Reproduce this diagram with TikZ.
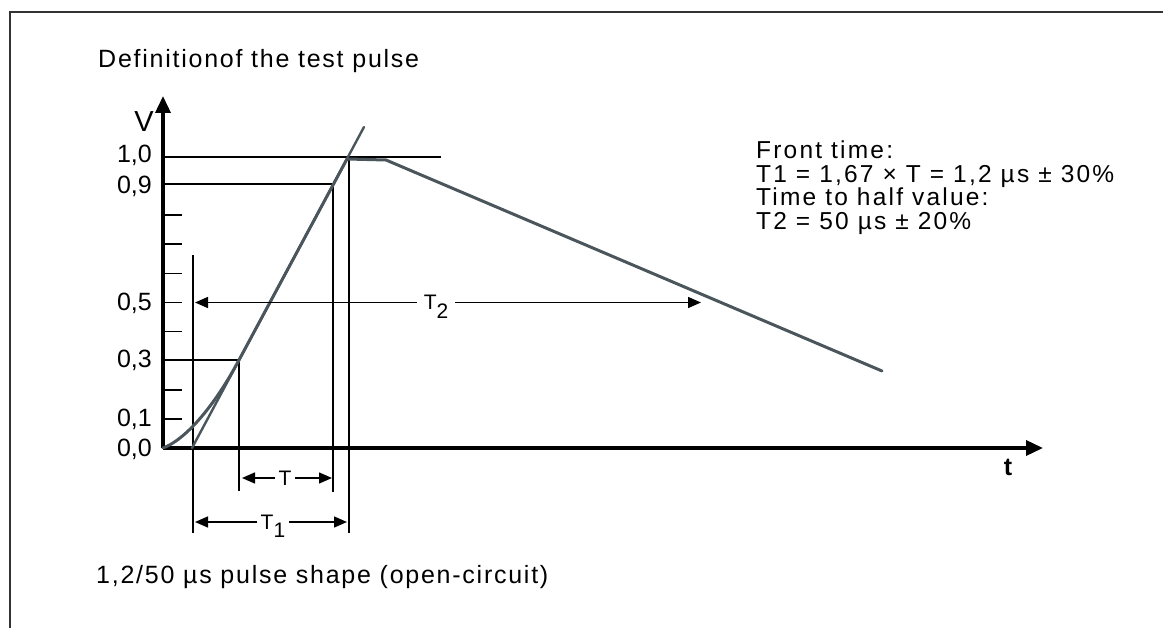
\documentclass[tikz,border=0pt]{standalone}
\usepackage{fontspec}
\setmainfont{Liberation Sans}
\newfontfamily\spaced[LetterSpace=7]{Liberation Sans}
\newfontfamily\spacedwide[LetterSpace=9]{Liberation Sans}
\usetikzlibrary{arrows.meta}
\definecolor{pulsegray}{HTML}{4B555C}
\definecolor{framegray}{HTML}{333333}
\newcommand\subdig[1]{\raisebox{-0.42em}{#1}}
\tikzset{
  frameline/.style={draw=framegray, line width=2.2pt},
  axisline/.style={line width=3.6pt, -{Triangle[length=17pt,width=15pt]}},
  guide/.style={line width=1.4pt},
  tickline/.style={line width=1.6pt},
  pulse/.style={draw=pulsegray, line width=3pt, line join=round, line cap=round},
  frontline/.style={draw=pulsegray, line width=2.4pt, line cap=round},
  dimarrow/.style={line width=1.4pt, {Triangle[length=13pt,width=11pt]}-{Triangle[length=13pt,width=11pt]}},
  dimlabel/.style={font=\fontsize{21}{24}\selectfont, fill=white, inner xsep=4pt, inner ysep=1pt},
  vlabel/.style={font=\fontsize{25}{28}\selectfont, anchor=east, inner sep=0pt},
  bodytext/.style={font=\spaced\fontsize{25}{23.3}\selectfont, anchor=base west, inner sep=0pt, align=left},
}
\begin{document}
\begin{tikzpicture}[x=1pt,y=-1pt]
\useasboundingbox (0,0) rectangle (1163,628);
% frame
\coordinate (fTL) at (10,12);
\coordinate (fTR) at (1163,12);
\coordinate (fBL) at (10,628);
\draw[frameline] (fBL) -- (fTL) -- (fTR);
% texts
\node[bodytext] (title) at (98,67.3) {Definitionof the test pulse};
\node[bodytext, font=\spacedwide\fontsize{24.5}{23.6}\selectfont] (info) at (756,229.5) {Front time:\\T1 = 1,67 × T = 1,2 µs ± 30\%\\Time to half value:\\T2 = 50 µs ± 20\%};
\node[bodytext] (shape) at (96,583) {1,2/50 µs pulse shape (open-circuit)};
% axes
\coordinate (O) at (163,448);
\coordinate (ytip) at (163,96);
\coordinate (xtip) at (1043,448);
\draw[axisline] (O) -- (ytip);
\draw[axisline] (O) -- (xtip);
\node[font=\fontsize{29}{30}\selectfont, inner sep=0pt] (V) at (144,122) {V};
\node[font=\bfseries\fontsize{25}{28}\selectfont, inner sep=0pt] (t) at (1008,467) {t};
% value labels
\node[vlabel] (l10) at (152,155) {1,0};
\node[vlabel] (l09) at (152,186) {0,9};
\node[vlabel] (l05) at (152,303) {0,5};
\node[vlabel] (l03) at (152,360) {0,3};
\node[vlabel] (l01) at (152,419) {0,1};
\node[vlabel] (l00) at (152,449) {0,0};
% ticks
\foreach \v/\n in {0.1/a,0.2/b,0.4/c,0.5/d,0.6/e,0.7/f,0.8/g}{
  \coordinate (tk\n0) at (163,{448-291*\v});
  \coordinate (tk\n1) at (182,{448-291*\v});
  \draw[tickline] (tk\n0) -- (tk\n1);
}
% guide lines
\coordinate (h10a) at (163,157);
\coordinate (h10b) at (441,157);
\coordinate (h09a) at (163,184);
\coordinate (p09) at (333,184);
\coordinate (h03a) at (163,360);
\coordinate (p03) at (239,360);
\draw[guide] (h10a) -- (h10b);
\draw[guide] (h09a) -- (p09);
\draw[guide] (h03a) -- (p03);
\coordinate (vAt) at (193,255);
\coordinate (vAb) at (193,533);
\coordinate (vBb) at (239,491);
\coordinate (vCb) at (333,492);
\coordinate (vDt) at (349,157);
\coordinate (vDb) at (349,533);
\draw[guide] (vAt) -- (vAb);
\draw[guide] (p03) -- (vBb);
\draw[guide] (p09) -- (vCb);
\draw[guide] (vDt) -- (vDb);
% front line and pulse
\coordinate (f0) at (192,448);
\coordinate (f1) at (364,127);
\draw[frontline] (f0) -- (f1);
\coordinate (pk1) at (347,159);
\coordinate (pk2) at (386,160);
\coordinate (pend) at (882,371);
\draw[pulse] (O) .. controls (185,440) and (214,407) .. (p03) -- (pk1) -- (pk2) -- (pend);
% dimension arrows
\coordinate (Ta) at (242,478);
\coordinate (Tb) at (332,478);
\draw[dimarrow] (Ta) -- (Tb);
\node[dimlabel] (Tl) at (285,478) {T};
\coordinate (T1a) at (195,522);
\coordinate (T1b) at (347,522);
\draw[dimarrow] (T1a) -- (T1b);
\node[dimlabel, anchor=base] (T1l) at (273,529) {T\subdig{1}};
\coordinate (T2a) at (195,302.5);
\coordinate (T2b) at (701,302.5);
\draw[dimarrow] (T2a) -- (T2b);
\node[dimlabel, anchor=base, inner xsep=7pt] (T2l) at (436,310) {T\subdig{2}};
\end{tikzpicture}
\end{document}
